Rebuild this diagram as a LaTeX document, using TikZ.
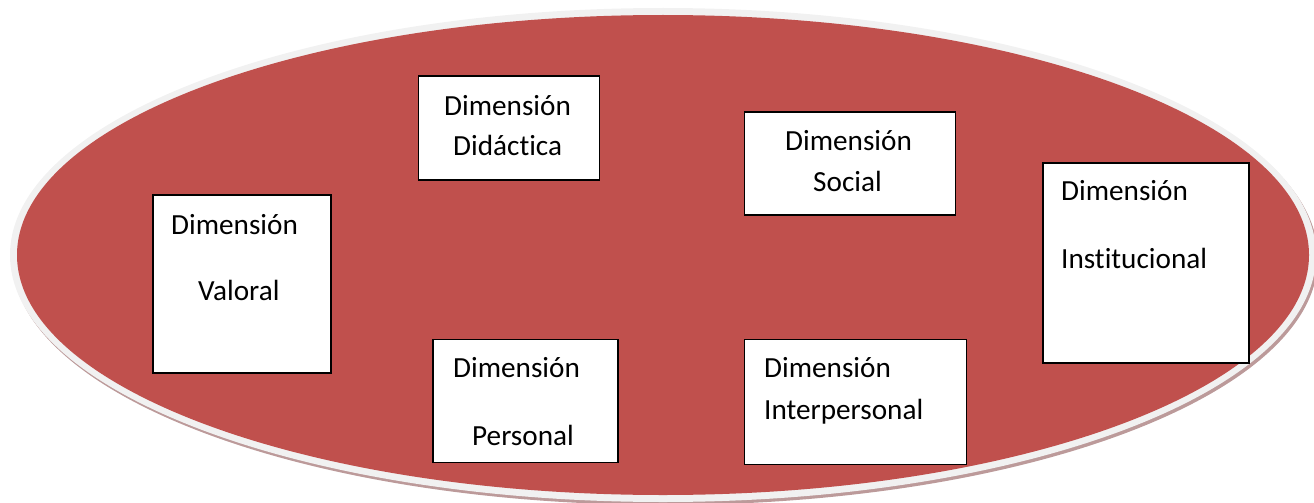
\documentclass[tikz,border=0pt]{standalone}
\usepackage{fontspec}
\setmainfont[Ligatures=NoCommon]{Carlito}
\usetikzlibrary{positioning}
\definecolor{dimred}{HTML}{C0504D}
\definecolor{dimrim}{HTML}{F1F1F1}
\definecolor{dimshade}{HTML}{BC9A9A}
\begin{document}
\begin{tikzpicture}[x=1pt, y=-1pt,
		dimbox/.style={draw=black, fill=white, line width=1.6pt, anchor=north west, inner sep=0pt},
		dimtext/.style={anchor=base west, inner sep=0pt, font=\fontsize{29.2}{35}\selectfont}]
		\useasboundingbox (0,0) rectangle (1314,503);
		\clip (0,0) rectangle (1314,503);
		% fondo
		\fill[dimshade] (665,258) ellipse [x radius=653pt, y radius=247pt];
		\fill[dimrim] (663,255) ellipse [x radius=653pt, y radius=247pt];
		\fill[dimred] (663,255) ellipse [x radius=646pt, y radius=240pt];
		% cajas
		\node[dimbox, minimum width=181pt, minimum height=104pt] (didactica) at (417.5,75) {};
		\node[dimbox, minimum width=211pt, minimum height=103pt] (social) at (743.5,111) {};
		\node[dimbox, minimum width=206pt, minimum height=200pt] (institucional) at (1042,162) {};
		\node[dimbox, minimum width=178pt, minimum height=178pt] (valoral) at (152,194) {};
		\node[dimbox, minimum width=185pt, minimum height=123pt] (personal) at (432,338.5) {};
		\node[dimbox, minimum width=222pt, minimum height=125pt] (interpersonal) at (743.5,338.5) {};
		% textos
		\node[dimtext] (didactica1) at (444,115) {Dimensión};
		\node[dimtext] (didactica2) at (453,155) {Didáctica};
		\node[dimtext] (social1) at (785,150) {Dimensión};
		\node[dimtext] (social2) at (813,191) {Social};
		\node[dimtext] (institucional1) at (1061,200) {Dimensión};
		\node[dimtext] (institucional2) at (1061,268) {Institucional};
		\node[dimtext] (valoral1) at (171,234) {Dimensión};
		\node[dimtext] (valoral2) at (198,300) {Valoral};
		\node[dimtext] (personal1) at (453,377) {Dimensión};
		\node[dimtext] (personal2) at (472,445) {Personal};
		\node[dimtext] (interpersonal1) at (764,377) {Dimensión};
		\node[dimtext] (interpersonal2) at (764,419) {Interpersonal};
	\end{tikzpicture}
\end{document}
